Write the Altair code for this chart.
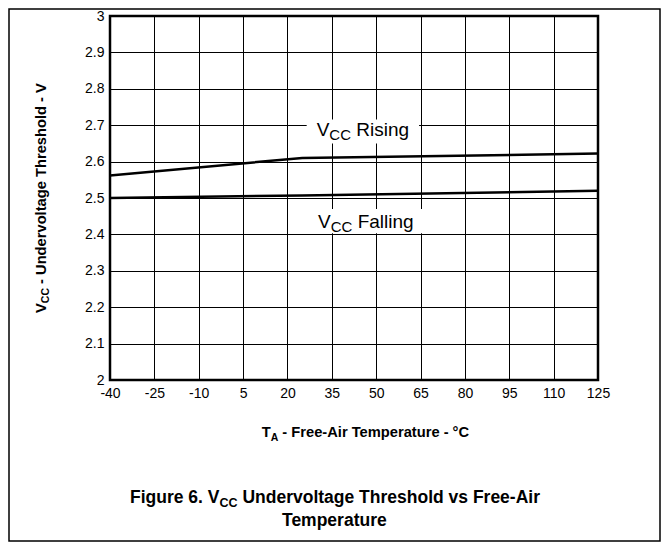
import altair as alt
import pandas as pd

# ---- data ----
temps_rising = [-40, 25, 125]
vcc_rising = [2.562, 2.610, 2.622]
temps_falling = [-40, 25, 125]
vcc_falling = [2.500, 2.507, 2.520]
x_ticks = [-40, -25, -10, 5, 20, 35, 50, 65, 80, 95, 110, 125]
y_ticks = [2.0, 2.1, 2.2, 2.3, 2.4, 2.5, 2.6, 2.7, 2.8, 2.9, 3.0]
series_names = ["VCC Rising", "VCC Falling"]

FONT = "Liberation Sans"
W, H = 488, 364

REG = {' ': 278, '-': 333, 'R': 722, 'i': 222, 's': 500, 'n': 556, 'g': 556,
       'F': 611, 'a': 556, 'l': 222, 'V': 667, 'C': 722}
BOLD = {' ': 278, '-': 333, '.': 278, '6': 556, 'F': 611, 'i': 278, 'g': 611,
        'u': 611, 'r': 389, 'e': 556, 'V': 667, 'C': 722, 'U': 722, 'n': 611,
        'd': 611, 'v': 556, 'o': 611, 'l': 278, 't': 333, 'a': 556, 'T': 611,
        'h': 611, 's': 556, 'A': 722, 'm': 889, 'p': 611, '°': 400}


def tw(s, size, bold):
    tab = BOLD if bold else REG
    return sum(tab.get(c, 556) for c in s) * size / 1000.0


def split_lead(t):
    s = t.lstrip(" ")
    return t[:len(t) - len(s)], s


def rich_pixel(parts, cx, y, bold, sub_shift):
    total = sum(tw(t, s, bold) for t, s, _ in parts)
    x = cx - total / 2
    layers = []
    for t, s, sub in parts:
        lead, body = split_lead(t)
        x0 = x + tw(lead, s, bold)
        layers.append(
            alt.Chart().mark_text(
                text=body, font=FONT, fontSize=s, fontWeight="bold" if bold else "normal",
                align="left", baseline="alphabetic", color="black"
            ).encode(x=alt.value(x0), y=alt.value(y + (sub_shift if sub else 0)))
        )
        x += tw(t, s, bold)
    return layers


def rich_vertical(parts, x, cy, bold, sub_shift):
    total = sum(tw(t, s, bold) for t, s, _ in parts)
    y = cy + total / 2
    layers = []
    for t, s, sub in parts:
        lead, body = split_lead(t)
        y0 = y - tw(lead, s, bold)
        layers.append(
            alt.Chart().mark_text(
                text=body, font=FONT, fontSize=s, fontWeight="bold" if bold else "normal",
                align="left", baseline="middle", angle=270, color="black"
            ).encode(x=alt.value(x + (sub_shift if sub else 0)), y=alt.value(y0))
        )
        y -= tw(t, s, bold)
    return layers


def rich_data(parts, tx, vy, sub_shift):
    total = sum(tw(t, s, False) for t, s, _ in parts)
    off = -total / 2
    layers = []
    for t, s, sub in parts:
        lead, body = split_lead(t)
        layers.append(
            alt.Chart().mark_text(
                text=body, font=FONT, fontSize=s, align="left", baseline="middle",
                color="black", dx=off + tw(lead, s, False), dy=(sub_shift if sub else 0)
            ).encode(x=alt.datum(tx), y=alt.datum(vy))
        )
        off += tw(t, s, False)
    return layers


df = pd.DataFrame({
    "T": temps_rising + temps_falling,
    "V": vcc_rising + vcc_falling,
    "series": [series_names[0]] * len(temps_rising) + [series_names[1]] * len(temps_falling),
})

xscale = alt.Scale(domain=[x_ticks[0], x_ticks[-1]], nice=False, zero=False)
yscale = alt.Scale(domain=[y_ticks[0], y_ticks[-1]], nice=False, zero=False)

axis_common = dict(title=None, grid=True, ticks=False, domain=False,
                   gridColor="#000", gridWidth=1, gridOpacity=1,
                   labelFont=FONT, labelFontSize=14, labelColor="black",
                   labelOverlap=False, labelFlush=False,
                   labelExpr="'' + datum.value")

base = alt.Chart(df).mark_line(color="black", strokeWidth=2.5).encode(
    x=alt.X("T:Q", scale=xscale,
            axis=alt.Axis(values=x_ticks, tickCount=len(x_ticks), labelPadding=6, **axis_common)),
    y=alt.Y("V:Q", scale=yscale,
            axis=alt.Axis(values=y_ticks, tickCount=len(y_ticks), labelPadding=6, **axis_common)),
    detail="series:N",
)

# white boxes behind the curve labels
box_r = alt.Chart().mark_rect(color="white").encode(
    x=alt.datum(26.5), x2=alt.datum(64.5), y=alt.datum(2.716), y2=alt.datum(2.650))
box_f = alt.Chart().mark_rect(color="white").encode(
    x=alt.datum(27.0), x2=alt.datum(66.0), y=alt.datum(2.470), y2=alt.datum(2.403))

lab_r = rich_data([("V", 19, False), ("CC", 15, True), (" Rising", 19, False)], 45.5, 2.687, 5)
lab_f = rich_data([("V", 19, False), ("CC", 15, True), (" Falling", 19, False)], 46.5, 2.434, 5)

xtitle = rich_pixel([("T", 14.7, False), ("A", 10.5, True), (" - Free-Air Temperature - °C", 14.7, False)],
                    256, 421, True, 4)
ytitle = rich_vertical([("V", 14.7, False), ("CC", 10.5, True), (" - Undervoltage Threshold - V", 14.7, False)],
                       -68, 182, True, 4)
title1 = rich_pixel([("Figure 6. V", 17.5, False), ("CC", 12.5, True),
                     (" Undervoltage Threshold vs Free-Air", 17.5, False)], 225, 487, True, 4)
title2 = rich_pixel([("Temperature", 17.5, False)], 225, 510, True, 0)

frame = alt.Chart().mark_rect(fill=None, stroke="black", strokeWidth=1.5).encode(
    x=alt.value(-101), x2=alt.value(W + 62), y=alt.value(-7), y2=alt.value(H + 161))

chart = alt.layer(
    base, box_r, box_f, *lab_r, *lab_f, *xtitle, *ytitle, *title1, *title2, frame
).properties(
    width=W, height=H,
    autosize=alt.AutoSizeParams(type="none"),
    padding={"left": 102, "top": 8, "right": 63, "bottom": 162},
    background="white",
).configure_view(stroke="black", strokeWidth=2.5)

chart.save("out.html", embed_options={"renderer": "svg", "actions": False})
